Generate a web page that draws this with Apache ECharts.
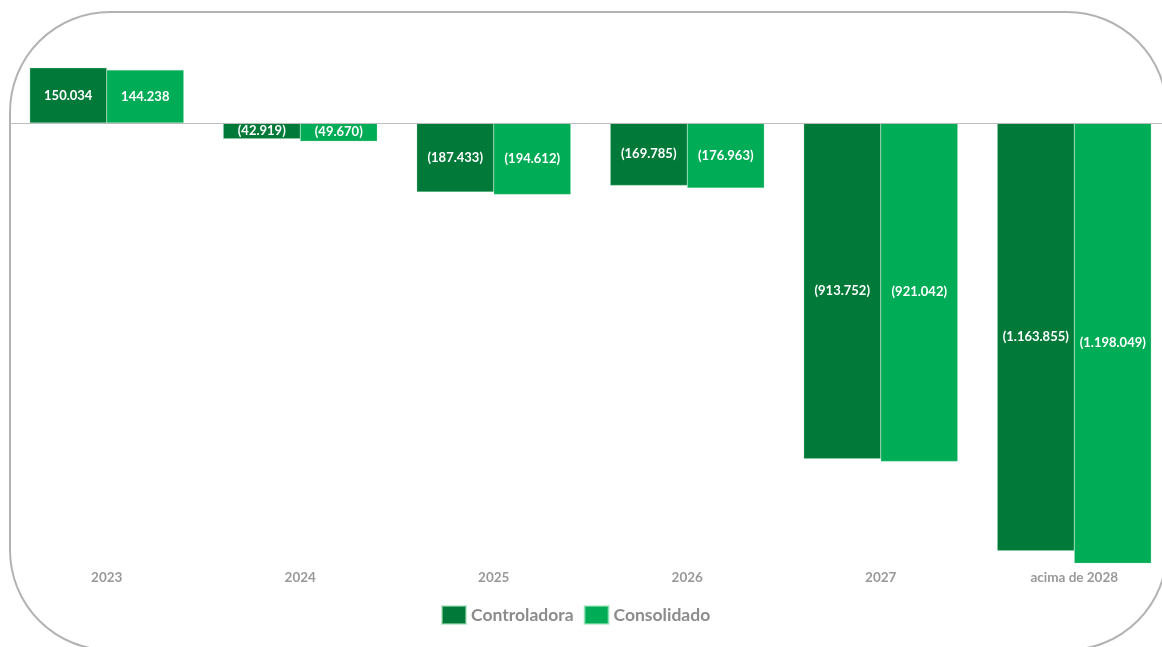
<!DOCTYPE html>
<html>
<head>
<meta charset="utf-8">
<script src="https://cdn.jsdelivr.net/npm/echarts@6/dist/echarts.min.js"></script>
<style>
  html, body { margin: 0; padding: 0; background: #ffffff; overflow: hidden; }
  /* the frame and plot run slightly past the right edge of the window */
  #chart { width: 1172px; height: 647px; }
</style>
</head>
<body>
<div id="chart"></div>
<script>
// Maturity schedule (R$ mil)
const categories = ['2023', '2024', '2025', '2026', '2027', 'acima de 2028'];
const controladora = [150034, -42919, -187433, -169785, -913752, -1163855];
const consolidado = [144238, -49670, -194612, -176963, -921042, -1198049];
const seriesNames = ['Controladora', 'Consolidado'];

const DARK = '#017a39';
const LIGHT = '#00ac55';
const FONT = 'Lato, "Open Sans", sans-serif';

// Brazilian thousands format; negatives shown in parentheses
function fmt(v) {
  const s = String(Math.abs(Math.round(v))).replace(/\B(?=(\d{3})+(?!\d))/g, '.');
  return v < 0 ? '(' + s + ')' : s;
}

const barLabel = {
  show: true,
  position: 'inside',
  color: '#ffffff',
  fontFamily: FONT,
  fontWeight: 'bold',
  fontSize: 13,
  formatter: p => fmt(p.value)
};

const chart = echarts.init(document.getElementById('chart'), null, { renderer: 'canvas' });
chart.setOption({
  animation: false,
  backgroundColor: '#ffffff',
  graphic: [{
    type: 'rect',
    z: -10,
    silent: true,
    shape: { x: 10, y: 12, width: 1157, height: 638, r: 100 },
    style: { fill: 'none', stroke: '#b3b3b3', lineWidth: 2 }
  }],
  legend: {
    data: seriesNames,
    left: 441,
    top: 605,
    padding: 0,
    itemWidth: 24,
    itemHeight: 18,
    itemGap: 10,
    icon: 'rect',
    textStyle: { color: '#8c8c8c', fontFamily: FONT, fontWeight: 'bold', fontSize: 17.5 }
  },
  grid: { left: 10, top: 49.5, width: 1161, height: 514.5, containLabel: false },
  xAxis: {
    type: 'category',
    data: categories,
    axisLine: { show: false, onZero: false },
    axisTick: { show: false },
    axisLabel: {
      color: '#999999', fontFamily: FONT, fontWeight: 'bold', fontSize: 13.5, margin: 7
    },
    splitLine: { show: false }
  },
  yAxis: {
    type: 'value',
    min: -1200000,
    max: 200000,
    show: false,
    splitLine: { show: false }
  },
  series: [
    {
      name: seriesNames[0],
      type: 'bar',
      data: controladora,
      barGap: '0%',
      barCategoryGap: '20.4%',
      itemStyle: { color: DARK, borderColor: 'rgba(160,220,180,0.6)', borderWidth: 0.5 },
      label: barLabel,
      markLine: {
        silent: true,
        symbol: 'none',
        label: { show: false },
        lineStyle: { color: '#bdbdbd', width: 1, type: 'solid' },
        data: [{ yAxis: 0 }]
      }
    },
    {
      name: seriesNames[1],
      type: 'bar',
      data: consolidado,
      barGap: '0%',
      barCategoryGap: '20.4%',
      itemStyle: { color: LIGHT, borderColor: 'rgba(160,230,190,0.6)', borderWidth: 0.5 },
      label: barLabel
    }
  ]
});
</script>
</body>
</html>
